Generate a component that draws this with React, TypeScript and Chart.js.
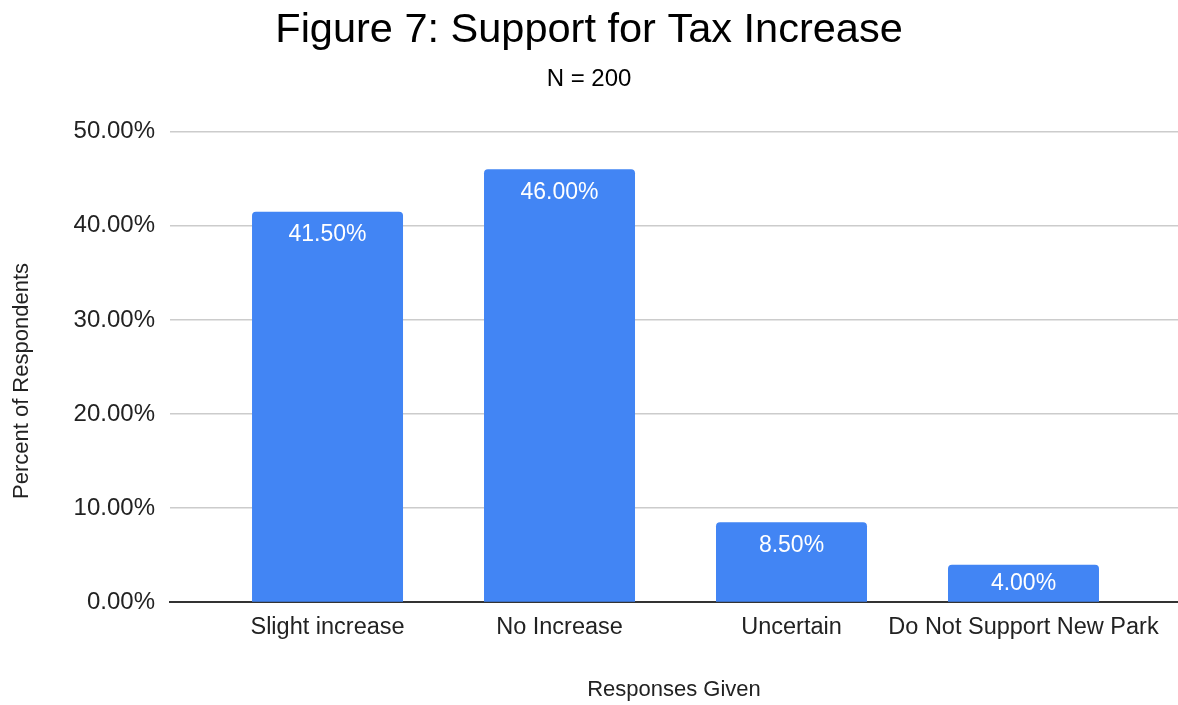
import React, { useEffect, useRef } from "react";
import { Chart, registerables } from "chart.js";

Chart.register(...registerables);

const categories = ["Slight increase", "No Increase", "Uncertain", "Do Not Support New Park"];
const values = [41.5, 46.0, 8.5, 4.0];
const yTicks = [0, 10, 20, 30, 40, 50];
const titleText = "Figure 7: Support for Tax Increase";
const subtitleText = "N = 200";
const xTitle = "Responses Given";
const yTitle = "Percent of Respondents";

const FONT = "'Liberation Sans', Arial, sans-serif";

const valueLabels = {
  id: "valueLabels",
  afterDatasetsDraw(chart: any) {
    const ctx = chart.ctx;
    const meta = chart.getDatasetMeta(0);
    ctx.save();
    ctx.fillStyle = "#ffffff";
    ctx.font = `23px ${FONT}`;
    ctx.textAlign = "center";
    ctx.textBaseline = "middle";
    meta.data.forEach((bar: any, i: number) => {
      const y = Math.min(bar.y + 23, (bar.y + bar.base) / 2);
      ctx.fillText(values[i].toFixed(2) + "%", bar.x, y);
    });
    ctx.restore();
  },
};

const yAxisTitle = {
  id: "yAxisTitle",
  afterDraw(chart: any) {
    const ctx = chart.ctx;
    const area = chart.chartArea;
    ctx.save();
    ctx.fillStyle = "#222222";
    ctx.font = `22px ${FONT}`;
    ctx.textAlign = "center";
    ctx.textBaseline = "middle";
    ctx.translate(22, (area.top + area.bottom) / 2 + 14);
    ctx.rotate(-Math.PI / 2);
    ctx.fillText(yTitle, 0, 0);
    ctx.restore();
  },
};

export default function App() {
  const ref = useRef<HTMLCanvasElement | null>(null);
  useEffect(() => {
    if (!ref.current) return;
    const chart = new Chart(ref.current, {
      type: "bar",
      data: {
        datasets: [
          {
            data: values.map((v, i) => ({ x: i, y: v })),
            backgroundColor: "#4285F4",
            borderRadius: { topLeft: 4, topRight: 4, bottomLeft: 0, bottomRight: 0 },
            borderSkipped: "bottom",
            categoryPercentage: 1,
            barPercentage: 151 / 232,
          },
        ],
      },
      options: {
        animation: false,
        responsive: false,
        maintainAspectRatio: false,
        layout: { padding: { left: 0, right: 0, top: 0, bottom: 0 } },
        plugins: {
          legend: { display: false },
          tooltip: { enabled: false },
          title: {
            display: true,
            text: titleText,
            color: "#000000",
            font: { family: FONT, size: 41.5, weight: "normal" },
            padding: { top: 6, bottom: 4 },
          },
          subtitle: {
            display: true,
            text: subtitleText,
            color: "#000000",
            font: { family: FONT, size: 24, weight: "normal" },
            padding: { top: 5, bottom: 38 },
          },
        },
        scales: {
          x: {
            type: "linear",
            min: -0.679,
            max: 3.666,
            offset: false,
            z: 1,
            afterBuildTicks: (scale: any) => {
              scale.ticks = categories.map((_, i) => ({ value: i }));
            },
            ticks: {
              autoSkip: false,
              maxRotation: 0,
              color: "#222222",
              font: { family: FONT, size: 23.5 },
              padding: 11,
              callback: (v: any) => categories[v as number] ?? "",
            },
            grid: { display: false, drawTicks: false, offset: false },
            border: { display: true, color: "#333333", width: 2 },
            title: {
              display: true,
              text: xTitle,
              color: "#222222",
              font: { family: FONT, size: 22 },
              padding: { top: 24, bottom: 2 },
            },
          },
          y: {
            min: 0,
            max: 50,
            afterBuildTicks: (scale: any) => {
              scale.ticks = yTicks.map((v) => ({ value: v }));
            },
            afterFit: (scale: any) => {
              scale.width = 170;
            },
            ticks: {
              color: "#222222",
              font: { family: FONT, size: 24 },
              padding: 15,
              callback: (v: any) => Number(v).toFixed(2) + "%",
            },
            grid: {
              drawTicks: false,
              color: (c: any) => (c.tick && c.tick.value === 0 ? "rgba(0,0,0,0)" : "#cccccc"),
              lineWidth: 1.5,
            },
            border: { display: false },
            title: { display: false },
          },
        },
      },
      plugins: [valueLabels, yAxisTitle],
    } as any);
    return () => chart.destroy();
  }, []);
  return (
    <div style={{ position: "absolute", left: 0, top: 0, width: 1178, height: 705, background: "#fff" }}>
      <canvas ref={ref} width={1178} height={705} style={{ display: "block" }} />
    </div>
  );
}
